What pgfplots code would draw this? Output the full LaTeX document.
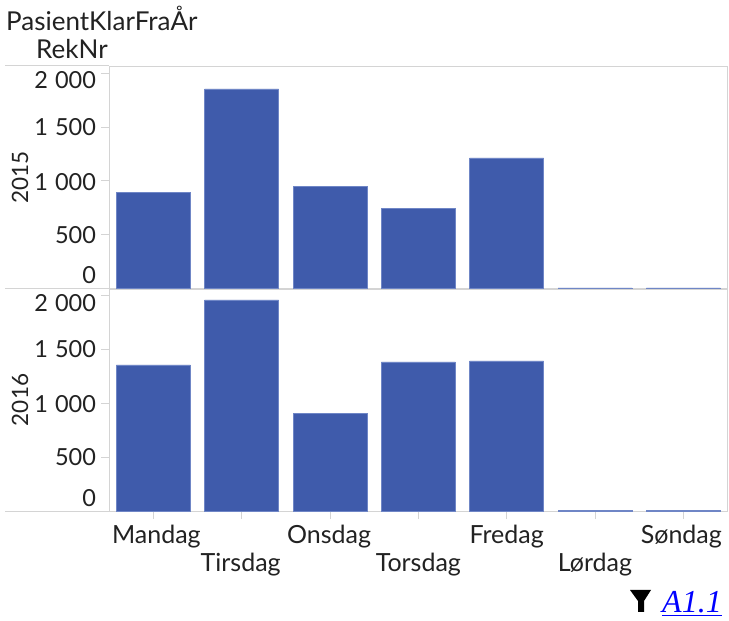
\documentclass[border=0pt]{standalone}
\usepackage{fontspec}
\setmainfont{Lato}
\newfontfamily\timesf{Liberation Serif}
\usepackage{pgfplots}
\usepackage{pgfplotstable}
\pgfplotsset{compat=1.18}
\definecolor{barblue}{HTML}{3F5BAB}
\definecolor{baredge}{HTML}{6F86C6}
\definecolor{rule}{HTML}{D4D4D4}
\definecolor{txt}{HTML}{222222}
\pgfplotstableread{
i v
0 894
1 1855
2 950
3 746
4 1214
5 6
6 6
}\tableA
\pgfplotstableread{
i v
0 1357
1 1961
2 906
3 1385
4 1394
5 9
6 9
}\tableB
\newcommand{\tl}[2]{\raisebox{\dimexpr #1-0.36em\relax}[0pt][0pt]{#2}}
\newcommand{\xl}[2]{\raisebox{#1}[0pt][0pt]{#2}}
\pgfplotsset{panel/.style={
  scale only axis, width=618.3bp, height=222bp,
  xmin=-0.5, xmax=6.5, ymin=0, ymax=2062,
  axis line style={draw=rule, line width=1pt},
  tick style={draw=rule, line width=1pt},
  major tick length=8bp, tick align=outside,
  ytick pos=left, xtick pos=bottom,
  ytick={0,500,1000,1500,2000},
  yticklabels={\tl{13bp}{0},\tl{0bp}{500},\tl{-1bp}{1\kern.3em 000},\tl{0bp}{1\kern.3em 500},\tl{-7bp}{2\kern.3em 000}},
  yticklabel style={font=\fontsize{23.5bp}{26bp}\selectfont, text=txt, anchor=east, xshift=-5bp, inner sep=0pt},
  xticklabel style={font=\fontsize{25bp}{27bp}\selectfont, text=txt, anchor=base, inner sep=0pt},
  ybar, bar width=74bp,
  clip=false,
}}
\begin{document}
\begin{tikzpicture}[font=\fontsize{26bp}{28bp}\selectfont]
\path[use as bounding box] (0,0) rectangle (729bp,621bp);
\begin{axis}[panel, at={(153.37bp,332.5bp)}, anchor=origin, xtick=\empty]
\addplot[fill=barblue, draw=baredge, line width=0.5pt] table[x=i,y=v] {\tableA};
\end{axis}
\begin{axis}[panel, at={(153.37bp,110bp)}, anchor=origin, xtick={0,1,2,3,4,5,6},
  xticklabels={\xl{-24bp}{\hspace*{6bp}Mandag},\xl{-52bp}{Tirsdag\hspace*{2bp}},\xl{-24bp}{Onsdag\hspace*{2bp}},\xl{-52bp}{Torsdag},\xl{-24bp}{Fredag},\xl{-52bp}{Lørdag},\xl{-24bp}{Søndag\hspace*{4bp}}},
  ]
\addplot[fill=barblue, draw=baredge, line width=0.5pt] table[x=i,y=v] {\tableB};
\end{axis}
\draw[rule, line width=1pt] (5bp,555bp) -- (109bp,555bp);
\draw[rule, line width=1.4pt] (5bp,332.5bp) -- (109bp,332.5bp);
\draw[rule, line width=1pt] (5bp,110bp) -- (109bp,110bp);
\node[anchor=base west, inner sep=0pt, text=txt] at (6bp,590bp) {PasientKlarFraÅr};
\node[anchor=base west, inner sep=0pt, text=txt] at (36bp,562bp) {RekNr};
\node[rotate=90, inner sep=0pt, text=txt, font=\fontsize{22.5bp}{24bp}\selectfont] at (20bp,443.5bp) {2015};
\node[rotate=90, inner sep=0pt, text=txt, font=\fontsize{22.5bp}{24bp}\selectfont] at (20bp,221bp) {2016};
\fill[black] (630bp,31bp) -- (651bp,31bp) -- (644bp,20bp) -- (644bp,9bp) -- (638bp,9bp) -- (638bp,20bp) -- cycle;
\node[anchor=base west, inner sep=0pt, text=blue] at (662bp,9bp) {\timesf\itshape\fontsize{32bp}{34bp}\selectfont A1.1};
\draw[blue, line width=1pt] (662bp,6bp) -- (722bp,6bp);
\end{tikzpicture}
\end{document}
